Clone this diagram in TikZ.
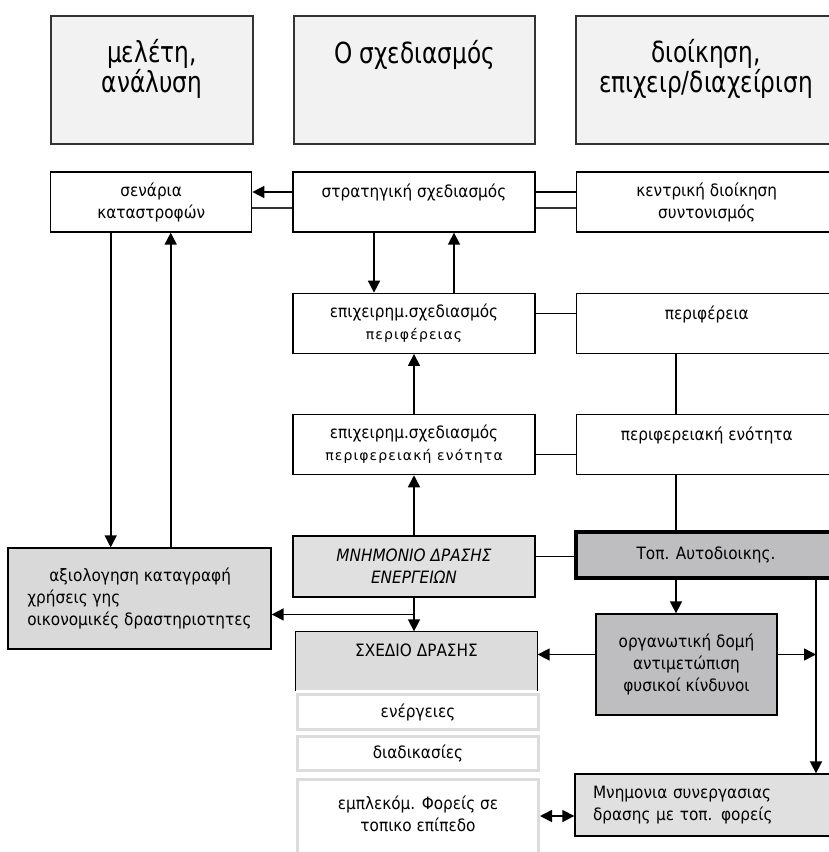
\documentclass[tikz,border=0pt]{standalone}
\usepackage{fontspec}
\setmainfont{DejaVu Sans}[FakeStretch=0.9]
\newfontfamily\headfont[FakeStretch=0.8]{DejaVu Sans}
\newfontfamily\subfont[LetterSpace=8]{DejaVu Sans}
\usepackage{xcolor}
\usetikzlibrary{positioning, arrows.meta, calc}

\definecolor{headfill}{HTML}{F2F2F2}
\definecolor{edgegray}{HTML}{333333}
\definecolor{lightfill}{HTML}{E0E0E0}
\definecolor{midfill}{HTML}{D9D9D9}
\definecolor{darkfill}{HTML}{BEBEC0}
\definecolor{subline}{HTML}{DCDCDC}

\newcommand\subline[1]{{\subfont\fontsize{14}{17}\selectfont #1}}

\begin{document}
\begin{tikzpicture}[
        x=1pt, y=-1pt,
        node distance = 60pt and 40pt,
        head/.style = {draw=edgegray, line width=1.4pt, fill=headfill, minimum height=128pt, inner sep=0pt, align=center, font=\headfont\fontsize{29}{28}\selectfont},
        box/.style = {draw, line width=1.3pt, fill=white, minimum width=242pt, minimum height=60pt, inner sep=0pt, align=center, font=\fontsize{17}{22}\selectfont},
        sub/.style = {draw=subline, line width=3pt, fill=white, minimum width=241pt, inner sep=0pt, align=center, font=\fontsize{17}{22}\selectfont},
        arrow/.style = {-{Triangle[length=12pt, width=12pt]}, line width=1.6pt},
        both/.style = {{Triangle[length=12pt, width=12pt]}-{Triangle[length=12pt, width=12pt]}, line width=1.6pt},
        link/.style = {line width=1.3pt}
      ]
      \useasboundingbox (0,0) rectangle (829,852);

      % ================= HEADER =================
      \node[head, minimum width=202pt] (study) at (152,80) {μελέτη,\\ανάλυση\\~};
      \node[head, minimum width=241pt] (design) at (414.5,80) {Ο σχεδιασμός\\~\\~};
      \node[head, minimum width=260pt] (admin) at (706,80) {διοίκηση,\\επιχειρ/διαχείριση\\~};
      \coordinate (rule-l) at (51,208);
      \coordinate (rule-r) at (829,208);
      \draw[line width=1.4pt, draw=edgegray] (rule-l) -- (rule-r);

      % ================= PLANNING COLUMN =================
      \node[box] (strat) at (414,202) {στρατηγική σχεδιασμός\\~};
      \node[box, left=of strat, minimum width=201pt] (scen) {σενάρια\\καταστροφών};
      \node[box, right=of strat, minimum width=261pt] (central) {κεντρική διοίκηση\\συντονισμός};
      \node[box, below=of strat] (opreg) {επιχειρημ.σχεδιασμός\\\subline{περιφέρειας}};
      \node[box, below=of opreg] (opunit) {επιχειρημ.σχεδιασμός\\\subline{περιφερειακή ενότητα}};
      \node[box, below=of opunit, minimum height=61pt, fill=lightfill, font=\itshape\fontsize{17}{22}\selectfont] (memo) {ΜΝΗΜΟΝΙΟ ΔΡΑΣΗΣ\\ΕΝΕΡΓΕΙΩΝ};

      % ================= ADMINISTRATION COLUMN =================
      \node[box, below=of central, minimum width=261pt] (region) {περιφέρεια\\~};
      \node[box, below=of region, minimum width=261pt] (unit) {περιφερειακή ενότητα\\~};
      \node[box, minimum width=260pt, minimum height=46pt, fill=darkfill, line width=4.5pt] (local) at (706,555) {Τοπ. Αυτοδιοικης.};
      \node[box, minimum width=181pt, minimum height=101pt, fill=darkfill] (orgs) at (686.5,664.5) {οργανωτική δομή\\αντιμετώπιση\\φυσικοί κίνδυνοι};
      \node[box, minimum width=0pt, minimum height=62pt, fill=lightfill, align=left, text width=225pt, inner xsep=18pt] (partners) at (705.5,805) {Μνημονια συνεργασιας\\δρασης με τοπ. φορείς};

      % ================= ANALYSIS =================
      \node[box, minimum width=263pt, minimum height=101pt, fill=midfill, align=left] (assess) at (139.5,598.5) {\hspace*{22pt}αξιολογηση καταγραφή\\χρήσεις γης\\οικονομικές δραστηριοτητες};

      % ================= ACTION PLAN =================
      \node[box, draw=none, minimum width=241pt, minimum height=58pt, fill=subline] (plan) at (416.5,661) {ΣΧΕΔΙΟ ΔΡΑΣΗΣ\\~};
      \draw[line width=1.3pt] (plan.south west) |- (plan.north east) -- (plan.south east);
      \node[sub, minimum height=35pt] (acts) at (418,712) {ενέργειες};
      \node[sub, minimum height=34pt] (procs) at (418,753.5) {διαδικασίες};
      \node[sub, minimum height=91pt] (bodies) at (418,824.5) {εμπλεκόμ. Φορείς σε\\τοπικο επίπεδο\\~};

      % planning column arrows
      \draw[arrow] ($(strat.west)+(0,-10)$) -- ($(scen.east)+(0,-10)$);
      \draw[link] ($(strat.east)+(0,-10)$) -- ($(central.west)+(0,-10)$);
      \draw[arrow] ($(strat.south)+(-40,0)$) -- ($(opreg.north)+(-40,0)$);
      \draw[arrow] ($(opreg.north)+(40,0)$) -- ($(strat.south)+(40,0)$);
      \draw[link] ($(opreg.east)+(0,-10)$) -- ($(region.west)+(0,-10)$);
      \draw[arrow] (opunit.north) -- (opreg.south);
      \draw[link] ($(opunit.east)+(0,10)$) -- ($(unit.west)+(0,10)$);
      \draw[arrow] (memo.north) -- (opunit.south);
      \coordinate (m-out) at ($(memo.east)+(0,-10)$);
      \draw[link] (m-out) -- (m-out -| local.west);
      \draw[arrow] (memo.south) -- (memo.south |- plan.north);

      % analysis arrows
      \coordinate (fork) at ($(memo.south)!0.5!(memo.south |- plan.north)$);
      \draw[arrow] (fork) -- (fork -| assess.east);
      \coordinate (sc-down) at ($(scen.south)+(-40.5,0)$);
      \coordinate (sc-up) at ($(scen.south)+(19.5,0)$);
      \draw[arrow] (sc-down) -- (sc-down |- assess.north);
      \draw[arrow] (sc-up |- assess.north) -- (sc-up);

      % administration arrows
      \coordinate (spine) at (676,0);
      \coordinate (rail) at (816,0);
      \draw[link] (region.south -| spine) -- (unit.north -| spine);
      \draw[link] (unit.south -| spine) -- (local.north -| spine);
      \draw[arrow] (local.south -| spine) -- (orgs.north -| spine);
      \coordinate (o-out) at ($(orgs.east)+(0,-10)$);
      \coordinate (o-in) at ($(orgs.west)+(0,-10)$);
      \draw[arrow] (o-out) -- (o-out -| rail);
      \draw[arrow] (o-in) -- (o-in -| plan.east);
      \draw[arrow] (local.south -| rail) -- (partners.north -| rail);
      \coordinate (p-in) at ($(partners.west)+(0,11)$);
      \draw[both] (p-in -| bodies.east) -- (p-in);

    \end{tikzpicture}
\end{document}
